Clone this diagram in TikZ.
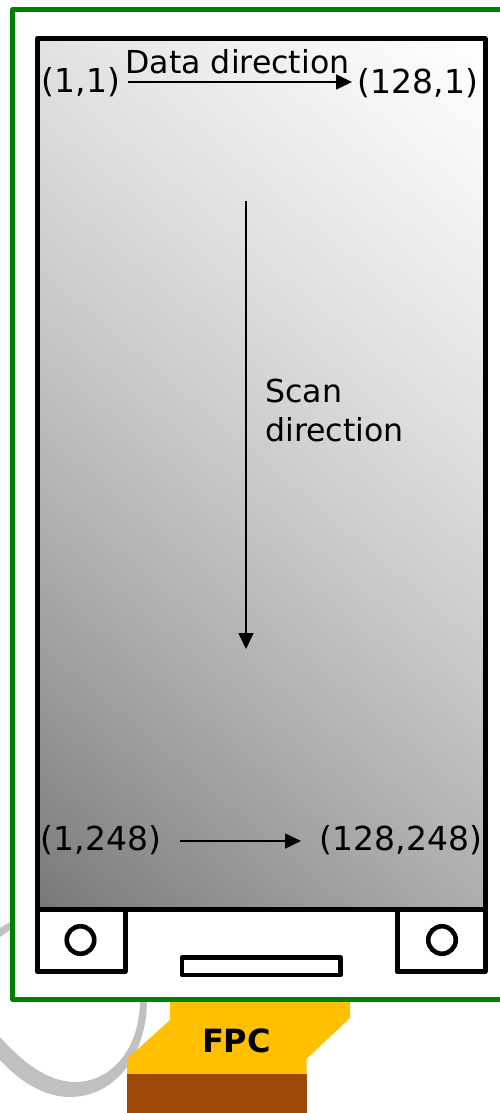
\documentclass[tikz,border=0pt]{standalone}
\usepackage{fontspec}
\setmainfont{DejaVu Sans}
\usetikzlibrary{arrows.meta}
\definecolor{fpcyellow}{HTML}{FFC000}
\definecolor{fpcbrown}{HTML}{9C4A06}
\definecolor{boardgreen}{HTML}{008000}
\definecolor{cablegray}{HTML}{C0C0C0}
\tikzset{
  outline/.style={draw=black,line width=5pt,line join=round},
  hole/.style={draw=black,line width=4.6pt,fill=white,circle,minimum size=27.5pt,inner sep=0pt},
  lbl/.style={font=\fontsize{31.6}{36}\selectfont,text=black,inner sep=0pt,anchor=center},
  coordlbl/.style={lbl,font=\fontsize{33}{36}\selectfont},
  flow/.style={draw=black,line width=1.7pt,-{Triangle[length=16pt,width=15pt]}},
}
\begin{document}
\begin{tikzpicture}[x=1pt,y=-1pt]
\useasboundingbox (0,0) rectangle (500,1113);
\fill[white] (0,0) rectangle (500,1113);
% cable
\fill[cablegray] (0,928) -- (10,922) -- (10,930) -- (0,937) -- cycle;
\fill[cablegray] (0,1037) .. controls (22,1062) and (48,1082) .. (75,1082)
  .. controls (112,1082) and (140,1048) .. (140,1000) -- (147,1000)
  .. controls (147,1055) and (115,1097) .. (70,1097)
  .. controls (45,1097) and (20,1082) .. (0,1060) -- cycle;
% FPC
\fill[fpcyellow] (170,998) -- (350,998) -- (350,1018) -- (306.5,1059) -- (306.5,1076) -- (127,1076) -- (127,1059) -- (170,1020) -- cycle;
\fill[fpcbrown] (127,1074) rectangle (307,1113);
\node[font=\fontsize{32}{36}\selectfont\bfseries,inner sep=0pt] (fpc) at (236.5,1041) {FPC};
% board
\draw[draw=boardgreen,line width=5pt,line join=round,fill=white] (520,9.5) -- (12.5,9.5) -- (12.5,999) -- (520,999);
% panel gradient
\begin{scope}
\clip (37.5,38.5) rectangle (485,909.5);
\definecolor{bandcolor}{gray}{0.47}
\fill[bandcolor] (37,38) rectangle (486,910);
\foreach \t in {4,8,...,1256}{
  \pgfmathsetmacro{\g}{(120+\t*0.1535-\t/1000*\t/1000*36.5)/255}
  \pgfmathsetmacro{\gg}{min(1,\g)}
  \definecolor{bandcolor}{gray}{\gg}
  \pgfmathsetmacro{\yl}{878.55-\t}
  \pgfmathsetmacro{\yr}{1320.55-\t}
  \fill[bandcolor] (0,\yl) -- (520,\yr) -- (520,-400) -- (0,-400) -- cycle;
}
\end{scope}
\draw[outline] (37.5,38.5) rectangle (485,909.5);
\draw[outline] (37.5,909.5) rectangle (125,971.5);
\draw[outline] (397,909.5) rectangle (485,971.5);
\node[hole] (h1) at (80.5,940) {};
\node[hole] (h2) at (442,940) {};
\draw[draw=black,line width=4.6pt,line join=round,fill=white] (182,957.5) rectangle (340.5,975);
% labels
\node[coordlbl] (a) at (81,82) {(1,1)};
\node[coordlbl] (b) at (418,83) {(128,1)};
\node[coordlbl] (c) at (101,840) {(1,248)};
\node[coordlbl] (d) at (401,840) {(128,248)};
\node[lbl] (dd) at (237.5,62) {Data direction};
\node[lbl,anchor=west] (s1) at (265,391) {Scan};
\node[lbl,anchor=west] (s2) at (265,430) {direction};
\coordinate (a1) at (128,82);
\coordinate (a2) at (352,82);
\coordinate (b1) at (246,201);
\coordinate (b2) at (246,649);
\coordinate (c1) at (180,841);
\coordinate (c2) at (301,841);
\draw[flow] (a1) -- (a2);
\draw[flow] (b1) -- (b2);
\draw[flow] (c1) -- (c2);
\end{tikzpicture}
\end{document}
